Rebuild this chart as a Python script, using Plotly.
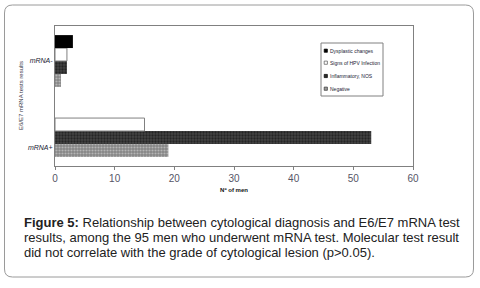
import plotly.graph_objects as go

categories = ["mRNA+", "mRNA-"]
series_names = ["Negative", "Inflammatory, NOS", "Signs of HPV Infection", "Dysplastic changes"]
negative = [19, 1]
inflammatory = [53, 2]
hpv = [15, 2]
dysplastic = [0, 3]
x_ticks = [0, 10, 20, 30, 40, 50, 60]

values = [negative, inflammatory, hpv, dysplastic]
styles = [
    dict(color="#8c8c8c", pattern=dict(shape=".", fgcolor="#e6e6e6", bgcolor="#858585", size=3, solidity=0.4), line=dict(width=0)),
    dict(color="#333333", pattern=dict(shape=".", fgcolor="#050505", bgcolor="#444444", size=3, solidity=0.45), line=dict(width=0)),
    dict(color="white", line=dict(color="#808080", width=1)),
    dict(color="black", line=dict(width=0)),
]
swatch = [("#9a9a9a", "#333333"), ("#2a2a2a", "#000000"), ("white", "#555555"), ("black", "black")]

W, H = 480, 288
L, R, T, B = 55, 413, 26, 166

fig = go.Figure()
ypos = list(range(len(categories)))
for name, vals, st in zip(series_names, values, styles):
    fig.add_trace(go.Bar(y=ypos, x=vals, name=name, orientation="h", marker=st, showlegend=False,
                         hoverinfo="skip"))

def px2paper(px, py):
    return (px - L) / (R - L), (B - py) / (B - T)

def P(px, py):
    a, b = px2paper(px, py)
    return f"{a:.5f},{b:.5f}"

# rounded outer frame
x0, x1, y0, y1, r = 4.5, 473.5, 5, 277, 8
path = (f"M {P(x0+r,y0)} L {P(x1-r,y0)} Q {P(x1,y0)} {P(x1,y0+r)} "
        f"L {P(x1,y1-r)} Q {P(x1,y1)} {P(x1-r,y1)} L {P(x0+r,y1)} "
        f"Q {P(x0,y1)} {P(x0,y1-r)} L {P(x0,y0+r)} Q {P(x0,y0)} {P(x0+r,y0)} Z")
fig.add_shape(type="path", path=path, xref="paper", yref="paper",
              line=dict(color="#9a9a9a", width=1), layer="below")

# legend box (compact, drawn as in the original)
lx0, ly0 = px2paper(321, 43)
lx1, ly1 = px2paper(383, 96)
fig.add_shape(type="rect", x0=lx0, x1=lx1, y0=ly1, y1=ly0, xref="paper", yref="paper",
              line=dict(color="#808080", width=1), fillcolor="white")
legend_rows = [50.7, 62.7, 76, 88.7]
for row_y, idx in zip(legend_rows, [3, 2, 1, 0]):
    fill, edge = swatch[idx]
    sx0, sy0 = px2paper(324.2, row_y - 1.6)
    sx1, sy1 = px2paper(327.4, row_y + 1.6)
    fig.add_shape(type="rect", x0=sx0, x1=sx1, y0=sy1, y1=sy0, xref="paper", yref="paper",
                  line=dict(color=edge, width=0.7), fillcolor=fill)
    tx, ty = px2paper(328.3, row_y)
    fig.add_annotation(text=series_names[idx], x=tx, y=ty, xref="paper", yref="paper",
                       xanchor="left", yanchor="middle", showarrow=False,
                       font=dict(family="Liberation Sans, Arial", size=5, color="#222233"))

caption = [
    "<b>Figure 5:</b> Relationship between cytological diagnosis and E6/E7 mRNA test",
    "results, among the 95 men who underwent mRNA test. Molecular test result",
    "did not correlate with the grade of cytological lesion (p>0.05).",
]
for i, line in enumerate(caption):
    cx, cy = px2paper(22, 223 + i * 14.6)
    fig.add_annotation(text=line, x=cx, y=cy, xref="paper", yref="paper",
                       xanchor="left", yanchor="middle", showarrow=False,
                       font=dict(family="Liberation Sans, Arial", size=13, color="#222222"))

ax, ay = px2paper(21, 96)
fig.add_annotation(text="E6/E7 mRNA tests results", x=ax, y=ay, xref="paper", yref="paper",
                   textangle=-90, showarrow=False, xanchor="center", yanchor="middle",
                   font=dict(family="Liberation Sans, Arial", size=6, color="#333344"))

fig.update_layout(
    width=W, height=H,
    margin=dict(l=L, r=W - R, t=T, b=H - B, pad=0),
    paper_bgcolor="white", plot_bgcolor="white",
    barmode="group", bargap=0.26, bargroupgap=0,
    showlegend=False,
    xaxis=dict(range=[0, 60], tickvals=x_ticks, ticks="outside", ticklen=3, tickcolor="#808080",
               showgrid=False, zeroline=False, showline=True, linecolor="#808080", linewidth=1, mirror=True,
               automargin=False,
               tickfont=dict(family="Liberation Sans Narrow, Liberation Sans, Arial", size=10, color="#555566"),
               title=dict(text="<b>Nº of men</b>", standoff=4,
                          font=dict(family="Liberation Sans, Arial", size=6, color="#111111"))),
    yaxis=dict(range=[-0.5, 1.5], tickvals=[-0.243, 1.0], ticktext=["<i>mRNA+</i>", "<i>mRNA-</i>"],
               ticks="", showgrid=False, zeroline=False, showline=True, linecolor="#808080", linewidth=1, mirror=True,
               automargin=False,
               tickfont=dict(family="Liberation Sans, Arial", size=7, color="#222233")),
)

fig.write_html("out.html", config={"displayModeBar": False},
               post_script="document.body.style.margin='0';document.body.style.padding='0';")
